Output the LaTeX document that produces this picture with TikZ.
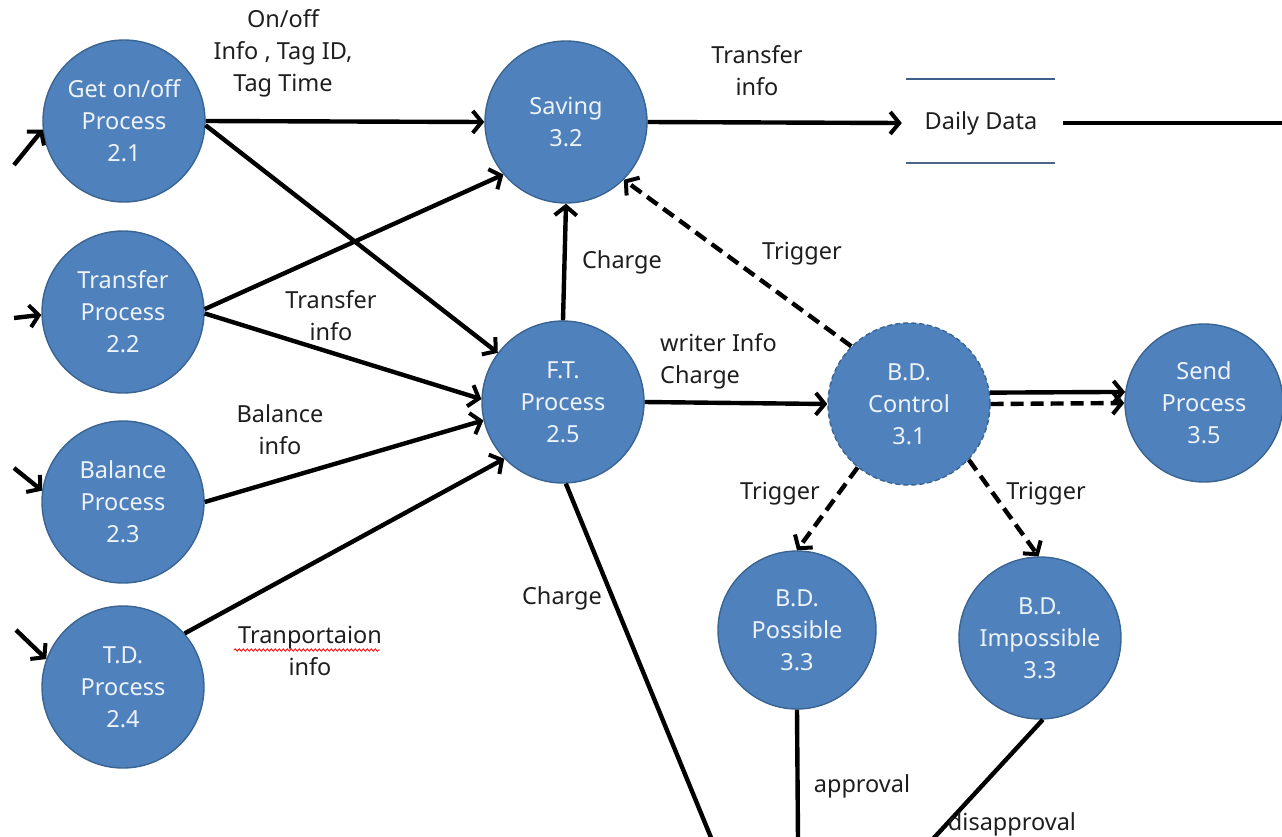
\documentclass[tikz,border=0pt]{standalone}
\usepackage{fontspec}
\setmainfont{Noto Sans}
\usetikzlibrary{arrows.meta,decorations.pathmorphing}
\definecolor{procfill}{HTML}{4F81BD}
\definecolor{procline}{HTML}{3A6491}
\definecolor{proctext}{HTML}{EEF3FA}
\definecolor{labtext}{HTML}{1E1E1E}
\definecolor{storeline}{HTML}{3F5E8C}
\begin{document}
\begin{tikzpicture}[x=1pt,y=-1pt,
  proc/.style={circle,fill=procfill,draw=procline,line width=1.4pt,minimum size=162pt,inner sep=0pt,
    text=proctext,align=center,font=\fontsize{23.5}{32}\selectfont},
  lab/.style={text=labtext,align=center,font=\fontsize{23.5}{32}\selectfont,inner sep=1pt},
  flow/.style={line width=4.4pt,-{Straight Barb[length=9pt,width=22pt,line width=4pt]}},
  plain/.style={line width=4.4pt},
  dflow/.style={flow,dash pattern=on 13pt off 7pt}
]
\useasboundingbox (0,0) rectangle (1282,836);
% nodes
\node[proc] (n21) at (124,121) {Get on/off\\Process\\2.1};
\node[proc] (n22) at (123,312) {Transfer\\Process\\2.2};
\node[proc] (n23) at (123,502) {Balance\\Process\\2.3};
\node[proc] (n24) at (123,687) {T.D.\\Process\\2.4};
\node[proc] (n32) at (566,122) {Saving\\3.2};
\node[proc] (n25) at (563,402) {F.T.\\Process\\2.5};
\node[proc,dashed,dash pattern=on 5pt off 3pt] (n31) at (909,404) {B.D.\\Control\\3.1};
\node[proc,minimum size=158pt] (n35) at (1204,403) {Send\\Process\\3.5};
\node[proc,minimum size=158pt] (n33a) at (797,630) {B.D.\\Possible\\3.3};
\node[proc] (n33b) at (1040,638) {B.D.\\Impossible\\3.3};
\node[lab,inner sep=0pt,minimum width=150pt] (dd) at (981,123) {Daily Data};
\draw[storeline,line width=2pt] (906,79) -- (1055,79);
\draw[storeline!80!gray,line width=1.6pt] (906,163) -- (1055,163);
% free ends
\coordinate (s1) at (14,165);
\coordinate (s2) at (14,318);
\coordinate (s3) at (14,468);
\coordinate (s4) at (16,630);
\coordinate (ddout) at (1282,123);
\coordinate (b1) at (712,840);
\coordinate (b2) at (798,840);
\coordinate (b3) at (932,840);
% stubs
\draw[flow] (s1) -- (n21.186);
\draw[flow] (s2) -- (n22.182);
\draw[flow] (s3) -- (n23.172);
\draw[flow] (s4) -- (n24.160);
% left to centre
\draw[flow] (n21.east) -- (n32.west);
\draw[flow] (n21.-3) -- (n25.143);
\draw[flow] (n22.2) -- (n32.220);
\draw[flow] (n22.-1) -- (n25.178);
\draw[flow] (n23.0) -- (n25.193);
\draw[flow] (n24.41) -- (n25.224);
\draw[flow] (n25.90) -- (n32.-90);
\draw[flow] (n32.east) -- ([xshift=-4pt]dd.west);
\draw[plain] ([xshift=7pt]dd.east) -- (ddout);
\draw[flow] (n25.east) -- (n31.west);
\draw[dflow] (n31.135) -- (n32.-45);
\draw[flow] (n31.8.5) -- (n35.172);
\draw[dflow] (n31.0) -- (n35.180);
\draw[dflow] (n31.231) -- (n33a.90);
\draw[dflow] (n31.-43.5) -- (n33b.91);
\draw[plain] (n25.-88) -- (b1);
\draw[plain] (n33a.-90) -- (b2);
\draw[plain] (n33b.-88) -- (b3);
% labels
\node[lab] (l1) at (283,53) {On/off\\Info , Tag ID,\\Tag Time};
\node[lab] (l2) at (757,71) {Transfer\\info};
\node[lab] (l3) at (331,316) {Transfer\\info};
\node[lab] (l4) at (280,430) {Balance\\info};
\node[lab] (l5) at (310,651) {Tranportaion\\info};
\draw[red,line width=0.8pt,decorate,decoration={snake,amplitude=1.2pt,segment length=4pt}] (234,650) -- (380,650);
\node[lab] (l6) at (622,262) {Charge};
\node[lab] (l7) at (802,254) {Trigger};
\node[lab,align=left,anchor=west] (l8) at (659,361) {writer Info\\Charge};
\node[lab] (l9) at (780,494) {Trigger};
\node[lab] (l10) at (1046,494) {Trigger};
\node[lab] (l11) at (562,598) {Charge};
\node[lab] (l12) at (862,786) {approval};
\node[lab] (l13) at (1012,824) {disapproval};
\end{tikzpicture}
\end{document}
